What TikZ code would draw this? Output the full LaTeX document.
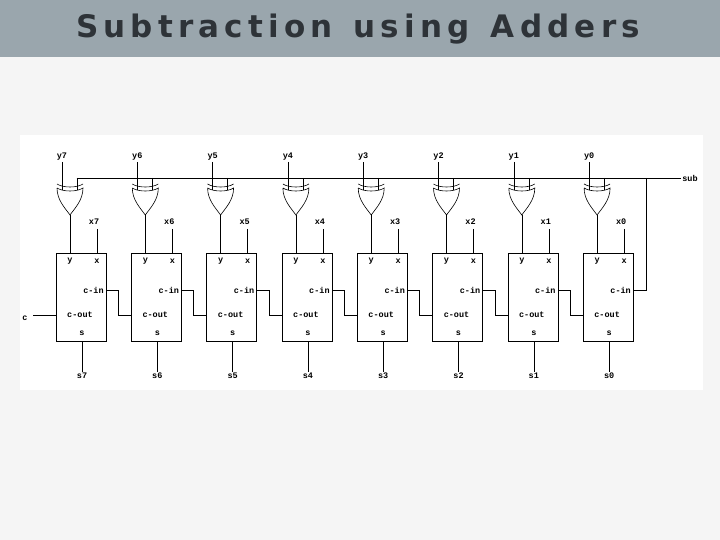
\documentclass[tikz,border=0pt]{standalone}
\usepackage{fontspec}
\setmainfont{Liberation Mono}
\newfontfamily\titlefont{DejaVu Sans}
\usetikzlibrary{positioning,calc}
\definecolor{barcol}{HTML}{9AA6AD}
\definecolor{titlecol}{HTML}{2E3338}
\tikzset{
  adder/.style={draw, minimum width=50pt, minimum height=88pt, inner sep=0pt},
  lbl/.style={font=\bfseries\fontsize{8.5}{9}\selectfont, inner sep=1pt},
  xorgate/.style={line width=0.6pt}
}
\begin{document}
\begin{tikzpicture}[x=1pt, y=-1pt, line width=0.6pt]
  \useasboundingbox (0,0) rectangle (720,540);
  \fill[gray!8] (0,0) rectangle (720,540);
  \fill[white] (20,135) rectangle (703,390);
  \fill[barcol] (0,0) rectangle (720,57);
  \node[text=titlecol, font=\titlefont\bfseries\fontsize{31}{36}\selectfont] (title) at (358,29) {S\,u\,b\,t\,r\,a\,c\,t\,i\,o\,n\, \,u\,s\,i\,n\,g\, \,A\,d\,d\,e\,r\,s};
  % one slice per bit
  \foreach \k/\i in {0/7,1/6,2/5,3/4,4/3,5/2,6/1,7/0} {
    \pgfmathsetmacro{\L}{56+75.3*\k}
    \node[adder] (add\i) at (\L+25,297) {};
    \node[lbl] (ylab\i) at (\L+6,157) {y\i};
    \node[lbl] (xlab\i) at (\L+38,222) {x\i};
    \node[lbl] (slab\i) at (\L+26,376) {s\i};
    \node[lbl] at (\L+14,261) {y};
    \node[lbl] at (\L+41,261) {x};
    \node[lbl, anchor=east] (cin\i) at (\L+49,290) {c-in};
    \node[lbl] (cout\i) at (\L+24,315) {c-out};
    \node[lbl] at (\L+26,333) {s};
    % xor gate
    \coordinate (gout\i) at (\L+14,215);
    \draw[xorgate] (\L+1,188) .. controls (\L+7,192) and (\L+21,192) .. (\L+27,188)
      .. controls (\L+27,200) and (\L+19,208) .. (gout\i)
      .. controls (\L+9,208) and (\L+1,200) .. (\L+1,188);
    \draw[xorgate] (\L+1,184) .. controls (\L+7,188) and (\L+21,188) .. (\L+27,184);
    \draw (ylab\i.south -| {\L+6},0) -- (\L+6,190);
    \draw (\L+21,178) -- (\L+21,190);
    \draw (gout\i) -- (gout\i |- add\i.north);
    \draw (\L+41,229) -- (\L+41,253);
    \draw (\L+26,341) -- (slab\i.north -| {\L+26},0);
  }
  % sub line
  \node[lbl] (sub) at (690,178) {sub};
  \draw (add7.north west |- sub) ++(21,0) -- (sub.west);
  \draw (646,178) |- (add0.east |- cin0);
  % carries
  \foreach \a/\b in {7/6,6/5,5/4,4/3,3/2,2/1,1/0}
    \draw (add\a.east |- cin\a) -- ++(12,0) |- (add\b.west |- cout\b);
  \node[lbl] (c) at (25,318) {c};
  \draw (33,315) -- (add7.west |- cout7);
\end{tikzpicture}
\end{document}
